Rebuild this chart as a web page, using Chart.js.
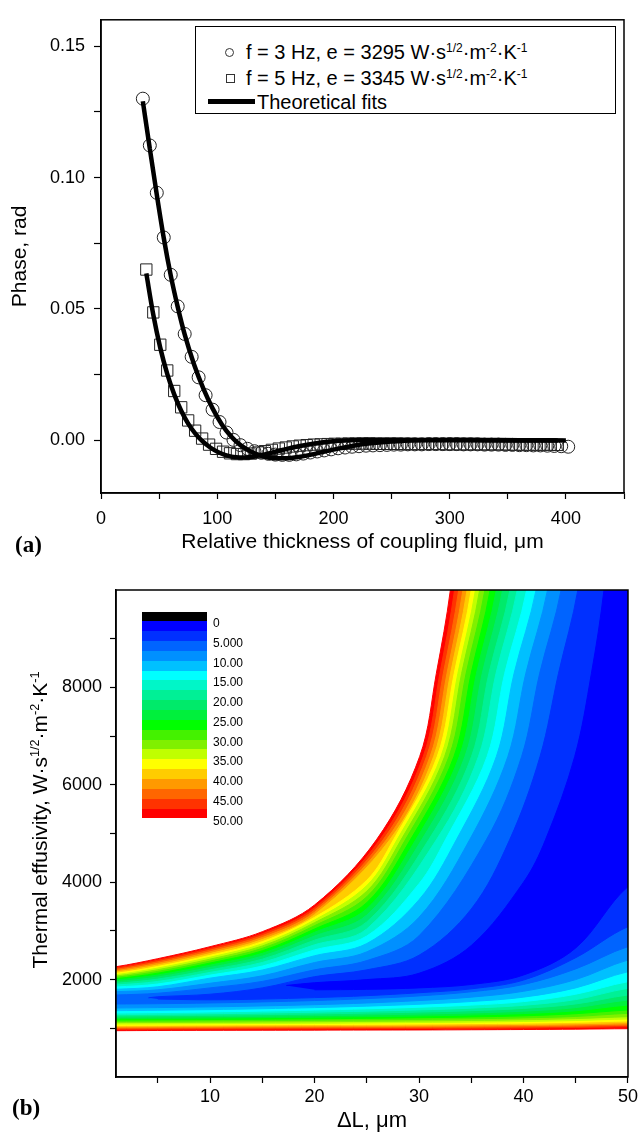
<!DOCTYPE html>
<html>
<head>
<meta charset="utf-8">
<script src="https://cdn.jsdelivr.net/npm/chart.js@4.4.1/dist/chart.umd.min.js"></script>
<style>
  html, body { margin: 0; padding: 0; background: #fff; }
  #page { position: relative; width: 641px; height: 1136px; overflow: hidden;
          font-family: 'Liberation Sans', Arial, sans-serif; color: #000; }
  canvas { position: absolute; left: 0; }
  #cvA { top: 0; }
  #cvB { top: 560px; }
  .tag { position: absolute; font: bold 23px 'Liberation Serif', 'Times New Roman', serif; line-height: 26px; }
  .sup { font-size: 0.6em; position: relative; top: -0.6em; }
  #legA { position: absolute; left: 195px; top: 26px; width: 419px; height: 86px;
          border: 1px solid #000; background: #fff; font-size: 20px; }
  .row { position: absolute; height: 24px; line-height: 24px; white-space: nowrap; }
  .sym { position: absolute; box-sizing: border-box; }
  #yTitleB { position: absolute; left: 41px; top: 820px; white-space: nowrap; font-size: 21px;
             line-height: 24px; transform: translate(-50%, -50%) rotate(-90deg); }
  #bar { position: absolute; left: 142px; top: 612px; width: 65px; }
  #bar div { width: 65px; }
  .barLab { position: absolute; left: 213px; font-size: 12px; line-height: 14px; }
</style>
</head>
<body>
<div id="page">
  <canvas id="cvA" width="641" height="560"></canvas>
  <canvas id="cvB" width="641" height="576"></canvas>

  <div id="legA">
    <div class="sym" style="left:29px; top:21px; width:9px; height:9px; border:1px solid #333; border-radius:50%;"></div>
    <div class="row" style="left:50px; top:13px;">f = 3 Hz, e = 3295 W·s<span class="sup">1/2</span>·m<span class="sup">-2</span>·K<span class="sup">-1</span></div>
    <div class="sym" style="left:30px; top:47px; width:9px; height:9px; border:1px solid #333;"></div>
    <div class="row" style="left:50px; top:39px;">f = 5 Hz, e = 3345 W·s<span class="sup">1/2</span>·m<span class="sup">-2</span>·K<span class="sup">-1</span></div>
    <div class="sym" style="left:12px; top:72px; width:47px; height:5px; background:#000;"></div>
    <div class="row" style="left:61px; top:63px;">Theoretical fits</div>
  </div>

  <div class="tag" style="left:15px; top:532px;">(a)</div>
  <div class="tag" style="left:12px; top:1095px;">(b)</div>
  <div id="yTitleB">Thermal effusivity, W·s<span class="sup">1/2</span>·m<span class="sup">-2</span>·K<span class="sup">-1</span></div>
  <div id="bar"></div>
</div>

<script>
// ---------- panel (a): phase vs relative thickness ----------
const circleX = [36, 42, 48, 54, 60, 66, 72, 78, 84, 90, 96, 102, 108, 114, 120, 126, 132, 138, 144, 150,
  156, 162, 168, 174, 180, 186, 192, 198, 204, 210, 216, 222, 228, 234, 240, 246, 252, 258, 264, 270,
  276, 282, 288, 294, 300, 306, 312, 318, 324, 330, 336, 342, 348, 354, 360, 366, 372, 378, 384, 390, 396, 402];
const circleY = [0.1300, 0.1122, 0.0942, 0.0772, 0.0630, 0.0510, 0.0405, 0.0318, 0.0240, 0.0172,
  0.0117, 0.0070, 0.0030, 0.0002, -0.0018, -0.0032, -0.0041, -0.0047, -0.0051, -0.0054,
  -0.0055, -0.0055, -0.0053, -0.0050, -0.0046, -0.0042, -0.0038, -0.0034, -0.0030, -0.0027,
  -0.0024, -0.0022, -0.0020, -0.0019, -0.0018, -0.0017, -0.0016, -0.0016, -0.0015, -0.0015,
  -0.0015, -0.0014, -0.0014, -0.0014, -0.0014, -0.0014, -0.0015, -0.0015, -0.0015, -0.0016,
  -0.0016, -0.0016, -0.0017, -0.0017, -0.0018, -0.0018, -0.0019, -0.0019, -0.0020, -0.0021, -0.0022, -0.0024];

const squareX = [39, 45, 51, 57, 63, 69, 75, 81, 87, 93, 99, 105, 111, 117, 123, 129, 135, 141, 147, 153,
  159, 165, 171, 177, 183, 189, 195, 201, 207, 213, 219, 225, 231, 237, 243, 249, 255, 261, 267, 273,
  279, 285, 291, 297, 303, 309, 315, 321, 327, 333, 339, 345, 351, 357, 363, 369, 375, 381, 387, 393];
const squareY = [0.0650, 0.0487, 0.0364, 0.0266, 0.0188, 0.0126, 0.0076, 0.0037, 0.0007, -0.0016,
  -0.0032, -0.0043, -0.0049, -0.0052, -0.0052, -0.0050, -0.0046, -0.0041, -0.0036, -0.0031,
  -0.0027, -0.0023, -0.0020, -0.0018, -0.0016, -0.0015, -0.0014, -0.0013, -0.0013, -0.0012,
  -0.0012, -0.0012, -0.0012, -0.0013, -0.0013, -0.0013, -0.0013, -0.0014, -0.0014, -0.0014,
  -0.0014, -0.0014, -0.0014, -0.0015, -0.0015, -0.0015, -0.0015, -0.0015, -0.0015, -0.0015,
  -0.0015, -0.0015, -0.0016, -0.0016, -0.0016, -0.0016, -0.0016, -0.0016, -0.0016, -0.0017];

const fit3X = [36, 42, 48, 54, 60, 66, 72, 80, 88, 96, 104, 112, 120, 130, 140, 150, 160, 170, 180, 190,
  200, 215, 230, 250, 275, 300, 330, 360, 400];
const fit3Y = [0.1290, 0.1110, 0.0935, 0.0770, 0.0628, 0.0508, 0.0403, 0.0290, 0.0198, 0.0122,
  0.0061, 0.0015, -0.0018, -0.0045, -0.0061, -0.0068, -0.0068, -0.0063, -0.0055, -0.0045,
  -0.0035, -0.0022, -0.0012, -0.0004, 0.0001, 0.0003, 0.0002, 0.0001, 0.0000];

const fit5X = [39, 45, 51, 57, 63, 69, 75, 81, 87, 94, 101, 108, 116, 124, 132, 140, 150, 160, 170, 180,
  195, 210, 230, 260, 300, 350, 393];
const fit5Y = [0.0635, 0.0478, 0.0352, 0.0253, 0.0175, 0.0113, 0.0064, 0.0027, -0.0002, -0.0027,
  -0.0045, -0.0057, -0.0064, -0.0065, -0.0061, -0.0054, -0.0043, -0.0032, -0.0022, -0.0014,
  -0.0005, 0.0000, 0.0003, 0.0003, 0.0001, 0.0000, 0.0000];

const xTicksA = [0, 50, 100, 150, 200, 250, 300, 350, 400, 450];
const yTicksA = [0, 0.025, 0.05, 0.075, 0.1, 0.125, 0.15];

// ---------- panel (b): contour map, 20 levels of 2.5 ----------
const levels = [2.5, 5, 7.5, 10, 12.5, 15, 17.5, 20, 22.5, 25, 27.5, 30, 32.5, 35, 37.5, 40, 42.5, 45, 47.5, 50];
const bandColors = ['#0000ff', '#0030ff', '#0064ff', '#0090ff', '#00c0ff', '#00ffff', '#00f6c8', '#00f096',
  '#00ea6a', '#00f03c', '#00ff00', '#44f200', '#80f000', '#c0ff00', '#ffff00', '#ffcc00', '#ff9900',
  '#ff6600', '#ff3300', '#ff0000'];
const barLabels = ['0', '5.000', '10.00', '15.00', '20.00', '25.00', '30.00', '35.00', '40.00', '45.00', '50.00'];

const gridX = [1, 5, 10, 15, 20, 25, 30, 35, 40, 45, 50];
// upper (top-left) branch of each level, y at gridX
const upperY = [
  [null, null, null, null, 1936, 2000, 2130, 2700, 4000, null, null],
  [null, 1648, 1700, 1830, 2060, 2200, 2500, 3450, null, null, null],
  [1684, 1720, 1830, 1963, 2200, 2390, 2900, null, null, null, null],
  [1752, 1790, 1925, 2078, 2350, 2570, 3280, null, null, null, null],
  [1801, 1853, 2030, 2196, 2490, 2740, 3640, null, null, null, null],
  [1848, 1910, 2092, 2278, 2610, 2895, 3970, null, null, null, null],
  [1889, 1962, 2148, 2352, 2715, 3040, null, null, null, null, null],
  [1923, 2010, 2200, 2420, 2810, 3185, null, null, null, null, null],
  [1957, 2054, 2250, 2482, 2895, 3325, null, null, null, null, null],
  [1992, 2094, 2296, 2539, 2971, 3455, null, null, null, null, null],
  [2019, 2132, 2340, 2592, 3039, 3580, null, null, null, null, null],
  [2047, 2168, 2380, 2642, 3107, 3700, null, null, null, null, null],
  [2074, 2203, 2420, 2690, 3169, 3815, null, null, null, null, null],
  [2101, 2237, 2460, 2735, 3224, 3930, null, null, null, null, null],
  [2129, 2270, 2498, 2779, 3279, 4040, null, null, null, null, null],
  [2156, 2302, 2535, 2822, 3333, null, null, null, null, null, null],
  [2183, 2334, 2570, 2862, 3382, null, null, null, null, null, null],
  [2211, 2366, 2605, 2902, 3429, null, null, null, null, null, null],
  [2238, 2398, 2640, 2941, 3477, null, null, null, null, null, null],
  [2265, 2430, 2676, 2984, 3532, null, null, null, null, null, null]
];
// steep part of the upper branch: x where each level crosses rowY
const rowY = [4870, 6580, 8290, 10000];
const upperRowX = [
  [42.1, 44.9, 46.5, 47.7], [38.67, 41.58, 43.35, 45.2], [36.44, 39.82, 41.55, 43.6],
  [34.84, 38.5, 40.22, 42.3], [33.57, 37.4, 39.1, 41.2], [32.52, 36.51, 38.2, 40.3],
  [31.66, 35.69, 37.37, 39.4], [30.92, 35.02, 36.69, 38.7], [30.25, 34.39, 36.05, 38.0],
  [29.68, 33.85, 35.5, 37.4], [29.17, 33.34, 34.99, 36.8], [28.69, 32.87, 34.51, 36.3],
  [28.28, 32.45, 34.08, 35.8], [27.89, 32.1, 33.72, 35.4], [27.55, 31.74, 33.37, 35.0],
  [27.2, 31.4, 33.02, 34.6], [26.88, 31.06, 32.68, 34.2], [26.56, 30.72, 32.33, 33.8],
  [26.24, 30.4, 32.0, 33.4], [25.92, 30.06, 31.66, 33.0]
];
// lower branch of each level, y at gridX
const lowerY = [
  [null, null, null, null, 1790, 1800, 1830, 1900, 2094, 2650, 3908],
  [null, 1600, 1585, 1600, 1630, 1670, 1730, 1810, 1990, 2450, 3086],
  [1499, 1505, 1520, 1542, 1570, 1610, 1665, 1750, 1900, 2220, 2676],
  [1417, 1425, 1440, 1460, 1485, 1520, 1570, 1640, 1760, 2000, 2402],
  [1362, 1371, 1384, 1402, 1425, 1455, 1494, 1550, 1640, 1830, 2162],
  [1314, 1323, 1336, 1353, 1374, 1400, 1432, 1476, 1548, 1700, 1957],
  [1280, 1289, 1300, 1314, 1331, 1352, 1378, 1414, 1472, 1590, 1821],
  [1253, 1260, 1269, 1281, 1295, 1312, 1333, 1362, 1408, 1500, 1684],
  [1225, 1231, 1239, 1249, 1261, 1275, 1292, 1315, 1352, 1425, 1581],
  [1198, 1203, 1210, 1218, 1228, 1240, 1254, 1273, 1302, 1360, 1478],
  [1170, 1174, 1180, 1187, 1195, 1205, 1217, 1233, 1256, 1300, 1376],
  [1143, 1147, 1152, 1158, 1165, 1173, 1183, 1196, 1214, 1244, 1307],
  [1116, 1119, 1124, 1129, 1135, 1142, 1150, 1161, 1176, 1200, 1238],
  [1088, 1091, 1095, 1100, 1105, 1111, 1118, 1127, 1140, 1160, 1191],
  [1061, 1064, 1068, 1072, 1077, 1082, 1088, 1096, 1107, 1124, 1150],
  [1041, 1044, 1047, 1051, 1055, 1059, 1064, 1071, 1080, 1094, 1116],
  [1020, 1023, 1026, 1030, 1033, 1037, 1041, 1047, 1055, 1068, 1088],
  [1000, 1003, 1006, 1009, 1012, 1015, 1019, 1024, 1031, 1043, 1061],
  [979, 982, 985, 988, 990, 993, 996, 1000, 1006, 1017, 1033],
  [951, 955, 958, 960, 962, 964, 966, 970, 975, 982, 992]
];
// levels whose region starts inside the plot (tip of the closed contour)
const tipX = [17.3, 4.1, null, null, null, null, null, null, null, null, null, null, null, null, null, null, null, null, null, null];
const tipY = [1880, 1625, null, null, null, null, null, null, null, null, null, null, null, null, null, null, null, null, null, null];

const xTicksB = [5, 10, 15, 20, 25, 30, 35, 40, 45, 50];
const yTicksB = [1000, 2000, 3000, 4000, 5000, 6000, 7000, 8000, 9000];

const FONT = "'Liberation Sans', Arial, sans-serif";
Chart.defaults.font.family = FONT;
Chart.defaults.color = '#000';

function pairs(xs, ys) {
  return xs.map((x, i) => ({ x, y: ys[i] }));
}

// closed outline of the region below level k (points off the plot get clipped)
function regionPoints(k) {
  const up = upperY[k], lo = lowerY[k], rx = upperRowX[k];
  const hasTip = tipX[k] != null;
  const pts = [];
  pts.push(hasTip ? { x: tipX[k], y: tipY[k] } : { x: 0, y: up[0] });
  gridX.forEach((x, i) => { if (up[i] != null) pts.push({ x, y: up[i] }); });
  rx.forEach((x, j) => pts.push({ x, y: rowY[j] }));
  pts.push({ x: rx[rx.length - 1] + 0.3, y: 11000 }, { x: 52, y: 11000 }, { x: 52, y: lo[lo.length - 1] });
  for (let i = gridX.length - 1; i >= 0; i--) {
    if (lo[i] != null) pts.push({ x: gridX[i], y: lo[i] });
  }
  if (!hasTip) pts.push({ x: 0, y: lo[0] });
  return pts;
}

const frame = {
  id: 'frame',
  afterDatasetsDraw(chart) {
    const { ctx, chartArea: a } = chart;
    ctx.save();
    ctx.strokeStyle = '#000';
    ctx.lineWidth = 1.5;
    ctx.strokeRect(a.left, a.top, a.right - a.left, a.bottom - a.top);
    ctx.restore();
  }
};

function axis(opts) {
  return {
    type: 'linear',
    min: opts.min, max: opts.max,
    afterBuildTicks: s => { s.ticks = opts.ticks.map(v => ({ value: v })); },
    afterFit: opts.fit,
    ticks: { autoSkip: false, maxRotation: 0, padding: opts.pad, font: { size: 18 }, color: '#000', callback: opts.label },
    grid: { drawOnChartArea: false, drawTicks: true, tickLength: opts.tick, tickWidth: 1.2, tickColor: '#000', color: '#000' },
    border: { display: true, color: '#000', width: 1.5 },
    title: opts.title
  };
}

new Chart(document.getElementById('cvA'), {
  type: 'scatter',
  data: {
    datasets: [
      { data: pairs(fit3X, fit3Y), showLine: true, borderColor: '#000', borderWidth: 4.5, pointRadius: 0, cubicInterpolationMode: 'monotone' },
      { data: pairs(fit5X, fit5Y), showLine: true, borderColor: '#000', borderWidth: 4.5, pointRadius: 0, cubicInterpolationMode: 'monotone' },
      { data: pairs(circleX, circleY), pointStyle: 'circle', pointRadius: 6.5, pointBorderWidth: 1, borderColor: '#222', backgroundColor: 'rgba(0,0,0,0)' },
      { data: pairs(squareX, squareY), pointStyle: 'rect', pointRadius: 8, pointBorderWidth: 1, borderColor: '#222', backgroundColor: 'rgba(0,0,0,0)' }
    ]
  },
  options: {
    responsive: false, animation: false, events: [],
    layout: { padding: { top: 14, right: 17, left: 0, bottom: 0 } },
    plugins: { legend: { display: false }, tooltip: { enabled: false } },
    scales: {
      x: axis({ min: 0, max: 450, ticks: xTicksA, pad: 9, tick: 6,
        fit: s => { s.height = 67; },
        label: v => (v % 100 === 0 ? String(v) : ''),
        title: { display: true, text: 'Relative thickness of coupling fluid, μm', font: { size: 21 }, color: '#000', padding: { top: 0, bottom: 5 } } }),
      y: axis({ min: -0.02, max: 0.16, ticks: yTicksA, pad: 9, tick: 7,
        fit: s => { s.width = 101; },
        label: (v, i) => (i % 2 === 0 ? v.toFixed(2) : ''),
        title: { display: true, text: 'Phase, rad', font: { size: 21 }, color: '#000', padding: { top: 8, bottom: 0 } } })
    }
  },
  plugins: [frame]
});

new Chart(document.getElementById('cvB'), {
  type: 'scatter',
  data: {
    datasets: levels.map((L, k) => ({
      data: regionPoints(k),
      showLine: true,
      fill: 'shape',
      backgroundColor: bandColors[k],
      borderColor: bandColors[k],
      borderWidth: 1,
      pointRadius: 0,
      tension: 0.35,
      clip: 0,
      order: k
    }))
  },
  options: {
    responsive: false, animation: false, events: [],
    elements: { line: { capBezierPoints: false } },
    layout: { padding: { top: 30, right: 12, left: 0, bottom: 0 } },
    plugins: { legend: { display: false }, tooltip: { enabled: false } },
    scales: {
      x: axis({ min: 1, max: 50, ticks: xTicksB, pad: 3, tick: 6,
        fit: s => { s.height = 59; },
        label: v => (v % 10 === 0 ? String(v) : ''),
        title: { display: true, text: 'ΔL, μm', font: { size: 22 }, color: '#000', padding: { top: 0, bottom: 2 } } }),
      y: axis({ min: 0, max: 10000, ticks: yTicksB, pad: 8, tick: 6,
        fit: s => { s.width = 116; },
        label: v => (v % 2000 === 0 ? String(v) : ''),
        title: { display: false } })
    }
  },
  plugins: [frame]
});

// colour scale legend of panel (b)
const bar = document.getElementById('bar');
const blackBand = document.createElement('div');
blackBand.style.height = '9.3px';
blackBand.style.background = '#000';
bar.appendChild(blackBand);
bandColors.forEach(c => {
  const d = document.createElement('div');
  d.style.height = '9.86px';
  d.style.background = c;
  bar.appendChild(d);
});
barLabels.forEach((t, i) => {
  const s = document.createElement('div');
  s.className = 'barLab';
  s.textContent = t;
  s.style.top = (612 + 9.3 + i * 19.72 + 2 - 7) + 'px';
  document.getElementById('page').appendChild(s);
});
</script>
</body>
</html>
